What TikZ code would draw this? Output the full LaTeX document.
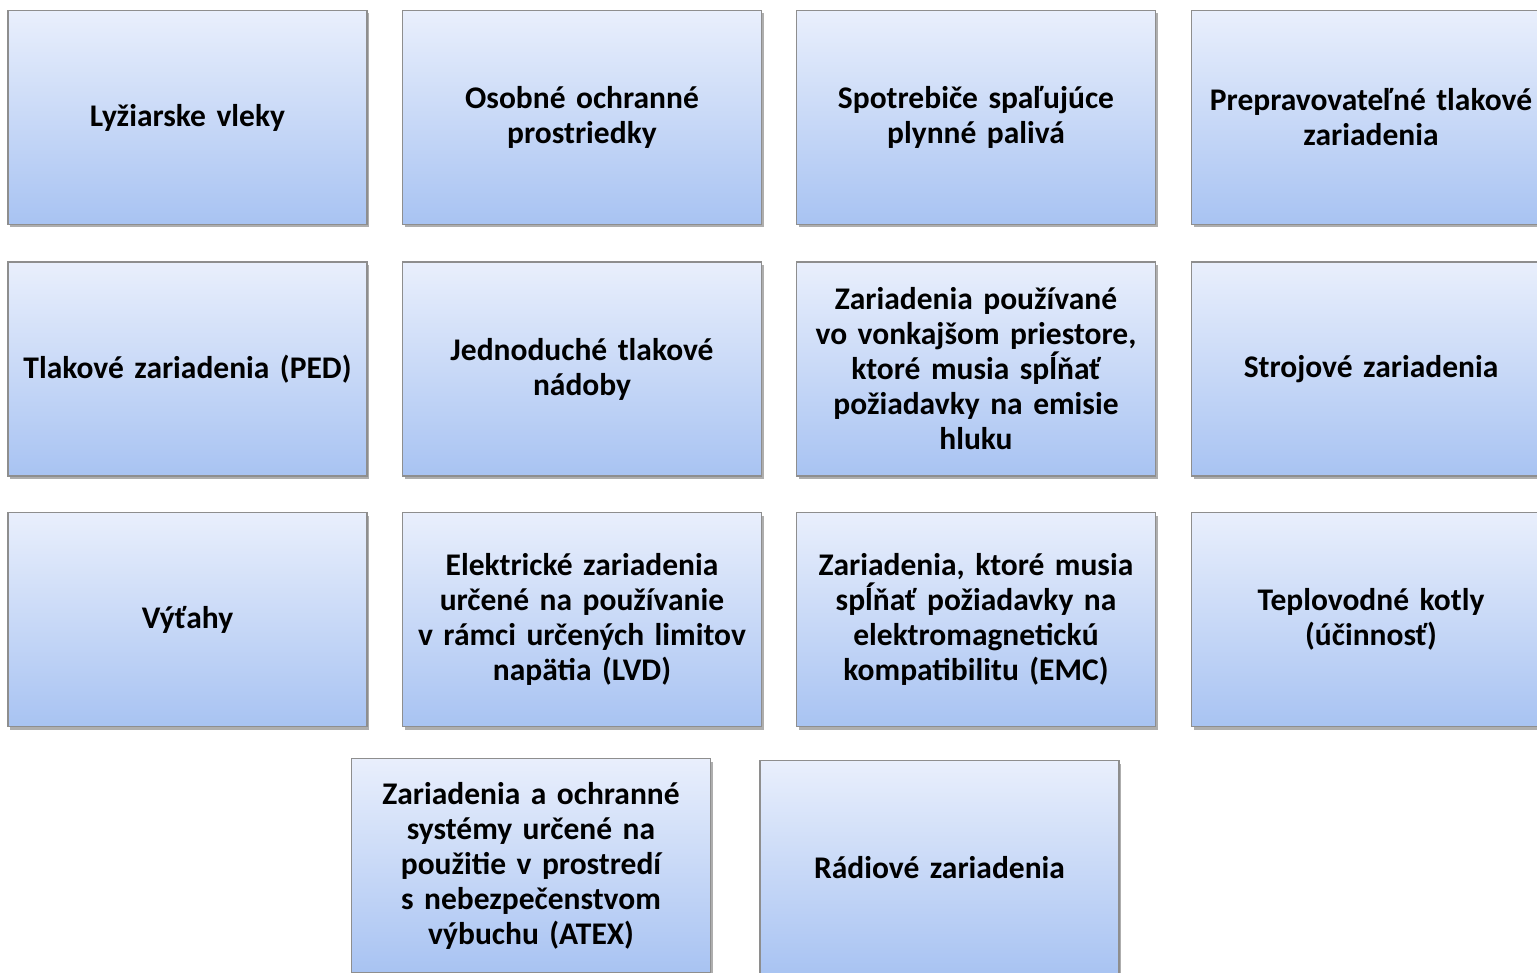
\documentclass[tikz,border=0pt]{standalone}
\usepackage{fontspec}
\setmainfont{Carlito}
\usetikzlibrary{shadows,shadings}
\definecolor{boxtop}{HTML}{E9EFFC}
\definecolor{boxbot}{HTML}{A8C3F2}
\definecolor{boxline}{HTML}{8E8E8E}
\tikzset{
  cat/.style={rectangle, draw=boxline, line width=1.2pt,
    top color=boxtop, bottom color=boxbot,
    minimum width=359pt, minimum height=214pt, text width=356pt,
    align=center, inner sep=0pt,
    font=\fontsize{31.5pt}{35pt}\selectfont\bfseries,
    drop shadow={shadow xshift=2pt, shadow yshift=-3pt, opacity=0.45, fill=black!70}}
}
\begin{document}
\begin{tikzpicture}[x=1pt,y=-1pt]
\useasboundingbox (0,0) rectangle (1537,973);
\node[cat] (n1) at (187.5,117.5) {Lyžiarske vleky};
\node[cat] (n2) at (582,117.5) {Osobné ochranné\\prostriedky};
\node[cat] (n3) at (976,117.5) {Spotrebiče spaľujúce\\plynné palivá};
\node[cat] (n4) at (1371,117.5) {Prepravovateľné tlakové\\zariadenia};
\node[cat] (n5) at (187.5,369) {Tlakové zariadenia (PED)};
\node[cat] (n6) at (582,369) {Jednoduché tlakové\\nádoby};
\node[cat] (n7) at (976,369) {Zariadenia používané\\vo vonkajšom priestore,\\ktoré musia spĺňať\\požiadavky na emisie\\hluku};
\node[cat] (n8) at (1371,369) {Strojové zariadenia};
\node[cat] (n9) at (187.5,619.5) {Výťahy};
\node[cat] (n10) at (582,619.5) {Elektrické zariadenia\\určené na používanie\\v rámci určených limitov\\napätia (LVD)};
\node[cat] (n11) at (976,619.5) {Zariadenia, ktoré musia\\spĺňať požiadavky na\\elektromagnetickú\\kompatibilitu (EMC)};
\node[cat] (n12) at (1371,619.5) {Teplovodné kotly\\(účinnosť)};
\node[cat] (n13) at (531,865.5) {Zariadenia a ochranné\\systémy určené na\\použitie v prostredí\\s nebezpečenstvom\\výbuchu (ATEX)};
\node[cat] (n14) at (939.5,867.5) {Rádiové zariadenia};
\end{tikzpicture}
\end{document}
